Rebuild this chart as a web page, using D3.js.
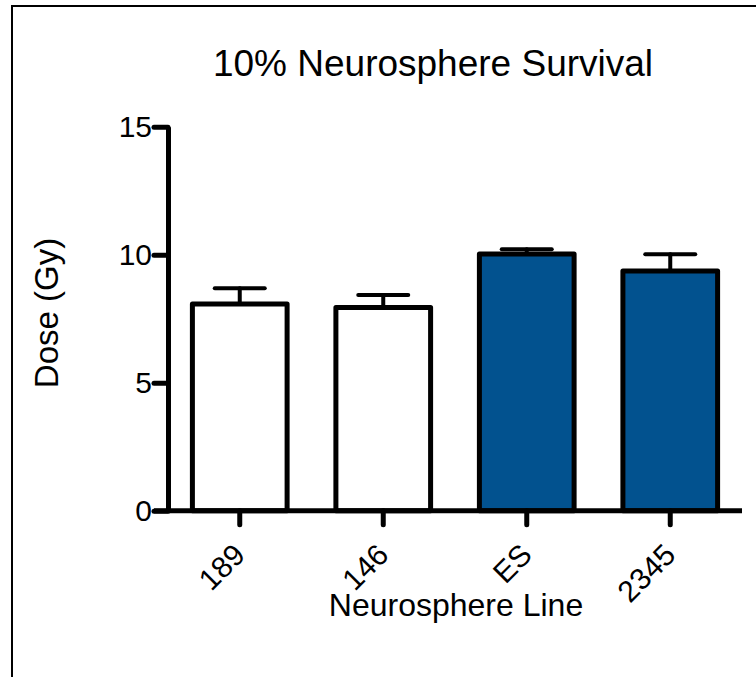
<!DOCTYPE html>
<html>
<head>
<meta charset="utf-8">
<script src="https://cdn.jsdelivr.net/npm/d3@7"></script>
<style>
  html, body { margin: 0; padding: 0; background: #fff; }
  svg { display: block; font-family: "Liberation Sans", Arial, sans-serif; }
</style>
</head>
<body>
<svg id="chart" width="756" height="677"></svg>
<script>
// Neurosphere lines and the dose giving 10% survival (mean ± SEM)
const categories = ["189", "146", "ES", "2345"];
const doseMean = [8.07, 7.94, 10.03, 9.36];
const doseSem = [0.62, 0.49, 0.18, 0.66];
const filled = [false, false, true, true];
const yTicks = [0, 5, 10, 15];

const svg = d3.select("#chart");
const W = 756, H = 677;
const FONT = "Liberation Sans, Arial, sans-serif";

// frame round the figure
svg.append("rect")
  .attr("x", 12).attr("y", 6)
  .attr("width", W + 20).attr("height", H + 20)
  .attr("fill", "none").attr("stroke", "#000").attr("stroke-width", 2);

const x = d3.scaleBand()
  .domain(categories)
  .range([168, 742])
  .paddingInner(0.34)
  .paddingOuter(0.17);

const y = d3.scaleLinear().domain([0, 15]).range([510.7, 126.7]);

const axisW = 5;

// bars
svg.append("g").selectAll("rect")
  .data(categories)
  .join("rect")
  .attr("x", d => x(d))
  .attr("width", x.bandwidth())
  .attr("y", (d, i) => y(doseMean[i]))
  .attr("height", (d, i) => y(0) - y(doseMean[i]))
  .attr("fill", (d, i) => filled[i] ? "#02528f" : "#fff")
  .attr("stroke", "#000")
  .attr("stroke-width", 5)
  .attr("stroke-linejoin", "round");

// error bars (upper only)
const capHalf = 25;
const err = svg.append("g").attr("stroke", "#000").attr("stroke-width", 4).attr("stroke-linecap", "round");
categories.forEach((c, i) => {
  const cx = x(c) + x.bandwidth() / 2;
  const top = y(doseMean[i] + doseSem[i]);
  err.append("line")
    .attr("x1", cx).attr("x2", cx)
    .attr("y1", y(doseMean[i])).attr("y2", top);
  err.append("line")
    .attr("x1", cx - capHalf).attr("x2", cx + capHalf)
    .attr("y1", top).attr("y2", top);
});

// y axis
const yAxis = svg.append("g")
  .attr("transform", "translate(168,0)")
  .call(d3.axisLeft(y).tickValues(yTicks).tickSize(14).tickSizeOuter(0).tickPadding(2));
yAxis.select(".domain").attr("stroke-width", axisW);
yAxis.selectAll(".tick line").attr("stroke-width", axisW).attr("stroke-linecap", "round");
yAxis.selectAll(".tick text")
  .attr("font-size", 30).attr("fill", "#000").attr("font-family", FONT);

// x axis
const xAxis = svg.append("g")
  .attr("transform", `translate(0,${y(0)})`)
  .call(d3.axisBottom(x).tickSize(14).tickSizeOuter(0));
xAxis.select(".domain")
  .attr("d", "M154,0H742")
  .attr("stroke-width", axisW);
xAxis.selectAll(".tick line").attr("stroke-width", axisW).attr("stroke-linecap", "round");
xAxis.selectAll(".tick text")
  .attr("font-size", 30).attr("fill", "#000").attr("font-family", FONT)
  .attr("text-anchor", "end")
  .attr("x", 0).attr("y", 0).attr("dy", 0)
  .attr("transform", "translate(7,46) rotate(-45)");

// title and axis labels
svg.append("text")
  .attr("x", 433).attr("y", 76)
  .attr("text-anchor", "middle")
  .attr("font-size", 37)
  .text("10% Neurosphere Survival");

svg.append("text")
  .attr("transform", "translate(58,313) rotate(-90)")
  .attr("text-anchor", "middle")
  .attr("font-size", 33)
  .text("Dose (Gy)");

svg.append("text")
  .attr("x", 456).attr("y", 616)
  .attr("text-anchor", "middle")
  .attr("font-size", 32)
  .text("Neurosphere Line");
</script>
</body>
</html>
